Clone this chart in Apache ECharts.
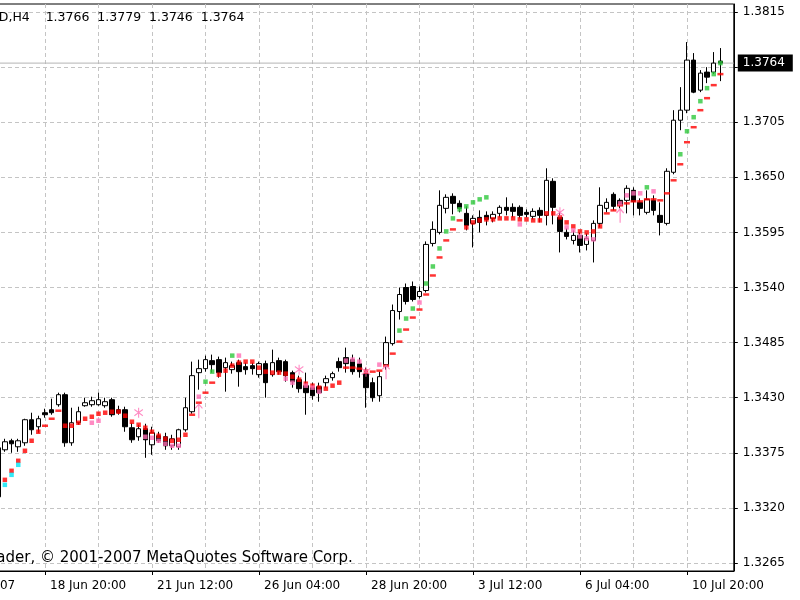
<!DOCTYPE html>
<html>
<head>
<meta charset="utf-8">
<script src="https://cdn.jsdelivr.net/npm/echarts@6/dist/echarts.min.js"></script>
<style>
  html, body { margin: 0; padding: 0; background: #fff; }
  #main { width: 800px; height: 600px; }
</style>
</head>
<body>
<div id="main"></div>
<script>
// EURUSD H4, 14 Jun - 11 Jul 2007
var tradingDays = ['14 Jun', '15 Jun', '18 Jun', '19 Jun', '20 Jun', '21 Jun', '22 Jun', '25 Jun', '26 Jun', '27 Jun',
  '28 Jun', '29 Jun', '2 Jul', '3 Jul', '4 Jul', '5 Jul', '6 Jul', '9 Jul', '10 Jul', '11 Jul', '12 Jul']
var barHours = ['00:00', '04:00', '08:00', '12:00', '16:00', '20:00']
var priceTicks = [1.3265, 1.3320, 1.3375, 1.3430, 1.3485, 1.3540, 1.3595, 1.3650, 1.3705, 1.3760, 1.3815]
var lastBar = [1.3766, 1.3779, 1.3746, 1.3764]

// first visible bar has index 9 on the axis
var FIRST_BAR = 9
// open, high, low, close
var ohlc = [
  [1.3331, 1.3382, 1.3330, 1.3380], [1.3378, 1.3389, 1.3376, 1.3386], [1.3387, 1.3389, 1.3375, 1.3384],
  [1.3381, 1.3389, 1.3376, 1.3387], [1.3385, 1.3409, 1.3382, 1.3408], [1.3408, 1.3415, 1.3393, 1.3398],
  [1.3401, 1.3412, 1.3395, 1.3409], [1.3415, 1.3419, 1.3410, 1.3413], [1.3418, 1.3429, 1.3413, 1.3415],
  [1.3423, 1.3435, 1.3421, 1.3433], [1.3433, 1.3435, 1.3381, 1.3385], [1.3385, 1.3420, 1.3382, 1.3405],
  [1.3405, 1.3421, 1.3403, 1.3416], [1.3422, 1.3430, 1.3421, 1.3425], [1.3423, 1.3431, 1.3421, 1.3427],
  [1.3423, 1.3435, 1.3422, 1.3428], [1.3422, 1.3430, 1.3420, 1.3426], [1.3428, 1.3430, 1.3411, 1.3413],
  [1.3418, 1.3422, 1.3413, 1.3415], [1.3418, 1.3421, 1.3396, 1.3401], [1.3400, 1.3405, 1.3385, 1.3388],
  [1.3391, 1.3403, 1.3387, 1.3399], [1.3399, 1.3404, 1.3370, 1.3388], [1.3383, 1.3401, 1.3373, 1.3395],
  [1.3392, 1.3396, 1.3385, 1.3387], [1.3391, 1.3395, 1.3378, 1.3382], [1.3382, 1.3393, 1.3378, 1.3389],
  [1.3381, 1.3399, 1.3378, 1.3398], [1.3398, 1.3430, 1.3396, 1.3420], [1.3416, 1.3466, 1.3414, 1.3452],
  [1.3455, 1.3468, 1.3438, 1.3459], [1.3459, 1.3472, 1.3456, 1.3468], [1.3467, 1.3473, 1.3455, 1.3463],
  [1.3468, 1.3471, 1.3450, 1.3455], [1.3460, 1.3470, 1.3436, 1.3465], [1.3458, 1.3466, 1.3454, 1.3462],
  [1.3465, 1.3468, 1.3441, 1.3456], [1.3461, 1.3465, 1.3453, 1.3458], [1.3462, 1.3465, 1.3453, 1.3459],
  [1.3453, 1.3466, 1.3450, 1.3464], [1.3464, 1.3467, 1.3430, 1.3445], [1.3453, 1.3478, 1.3451, 1.3465],
  [1.3467, 1.3470, 1.3453, 1.3456], [1.3466, 1.3468, 1.3446, 1.3452], [1.3455, 1.3457, 1.3440, 1.3446],
  [1.3448, 1.3452, 1.3435, 1.3439], [1.3442, 1.3455, 1.3413, 1.3435], [1.3440, 1.3445, 1.3428, 1.3432],
  [1.3441, 1.3445, 1.3426, 1.3435], [1.3445, 1.3452, 1.3440, 1.3449], [1.3450, 1.3456, 1.3447, 1.3454],
  [1.3466, 1.3470, 1.3456, 1.3460], [1.3470, 1.3480, 1.3455, 1.3464], [1.3468, 1.3473, 1.3453, 1.3456],
  [1.3464, 1.3470, 1.3450, 1.3456], [1.3454, 1.3460, 1.3420, 1.3440], [1.3445, 1.3450, 1.3426, 1.3430],
  [1.3432, 1.3456, 1.3426, 1.3451], [1.3463, 1.3491, 1.3458, 1.3485], [1.3484, 1.3523, 1.3482, 1.3517],
  [1.3516, 1.3540, 1.3508, 1.3533], [1.3540, 1.3544, 1.3523, 1.3526], [1.3541, 1.3546, 1.3526, 1.3528],
  [1.3531, 1.3541, 1.3529, 1.3536], [1.3537, 1.3586, 1.3535, 1.3583], [1.3584, 1.3606, 1.3581, 1.3598],
  [1.3595, 1.3637, 1.3593, 1.3622], [1.3619, 1.3633, 1.3614, 1.3630], [1.3631, 1.3634, 1.3613, 1.3624],
  [1.3624, 1.3627, 1.3615, 1.3619], [1.3614, 1.3621, 1.3597, 1.3602], [1.3604, 1.3612, 1.3580, 1.3609],
  [1.3610, 1.3617, 1.3595, 1.3605], [1.3612, 1.3616, 1.3602, 1.3608], [1.3609, 1.3616, 1.3605, 1.3613],
  [1.3614, 1.3622, 1.3610, 1.3620], [1.3620, 1.3630, 1.3612, 1.3617], [1.3620, 1.3624, 1.3610, 1.3616],
  [1.3620, 1.3622, 1.3609, 1.3612], [1.3615, 1.3618, 1.3610, 1.3613], [1.3611, 1.3619, 1.3608, 1.3616],
  [1.3617, 1.3620, 1.3605, 1.3612], [1.3612, 1.3659, 1.3602, 1.3647], [1.3646, 1.3649, 1.3603, 1.3620],
  [1.3610, 1.3615, 1.3575, 1.3596], [1.3595, 1.3599, 1.3588, 1.3591], [1.3587, 1.3597, 1.3583, 1.3592],
  [1.3592, 1.3595, 1.3575, 1.3582], [1.3583, 1.3594, 1.3577, 1.3589], [1.3587, 1.3607, 1.3565, 1.3604],
  [1.3604, 1.3640, 1.3600, 1.3622], [1.3619, 1.3629, 1.3615, 1.3625], [1.3633, 1.3635, 1.3617, 1.3621],
  [1.3627, 1.3629, 1.3619, 1.3622], [1.3627, 1.3642, 1.3614, 1.3639], [1.3637, 1.3640, 1.3612, 1.3626],
  [1.3625, 1.3629, 1.3612, 1.3619], [1.3615, 1.3637, 1.3613, 1.3628], [1.3627, 1.3632, 1.3612, 1.3617],
  [1.3612, 1.3625, 1.3592, 1.3605], [1.3604, 1.3659, 1.3602, 1.3656], [1.3655, 1.3717, 1.3653, 1.3707],
  [1.3707, 1.3740, 1.3697, 1.3717], [1.3717, 1.3785, 1.3714, 1.3767], [1.3767, 1.3774, 1.3734, 1.3735],
  [1.3737, 1.3757, 1.3735, 1.3754], [1.3755, 1.3760, 1.3744, 1.3750], [1.3755, 1.3775, 1.3753, 1.3764],
  lastBar
]

// indicator buffers: [bar index, price]
var redDots = [[10, 1.3348], [11, 1.3357], [12, 1.3367], [13, 1.3377], [14, 1.3387], [15, 1.3396],
  [19, 1.3402], [20, 1.3402], [21, 1.3405], [22, 1.3409], [23, 1.3411], [24, 1.3414], [25, 1.3415], [26, 1.3416],
  [27, 1.3416], [28, 1.3412], [29, 1.3406], [30, 1.3403], [31, 1.3400], [32, 1.3396], [33, 1.3392], [34, 1.3389],
  [35, 1.3387], [36, 1.3388], [37, 1.3393],
  [42, 1.3453], [43, 1.3457], [44, 1.3462], [45, 1.3465], [46, 1.3466], [47, 1.3466], [48, 1.3460], [49, 1.3456],
  [50, 1.3455], [51, 1.3455], [52, 1.3454], [53, 1.3451], [54, 1.3448], [55, 1.3444], [56, 1.3442], [57, 1.3440],
  [58, 1.3439], [59, 1.3442], [60, 1.3445], [64, 1.3456],
  [79, 1.3600], [80, 1.3605], [81, 1.3607], [82, 1.3608], [83, 1.3608], [84, 1.3609], [85, 1.3609], [86, 1.3609],
  [87, 1.3608], [88, 1.3608], [89, 1.3607], [90, 1.3607], [91, 1.3614], [92, 1.3614], [93, 1.3610], [94, 1.3605],
  [95, 1.3601], [96, 1.3596], [97, 1.3595], [98, 1.3596], [99, 1.3601]]
var redDashes = [[16, 1.3402], [17, 1.3409], [18, 1.3417],
  [38, 1.3413], [39, 1.3425], [40, 1.3435], [41, 1.3445],
  [61, 1.3460], [62, 1.3460], [63, 1.3459],
  [65, 1.3456], [66, 1.3457], [67, 1.3462], [68, 1.3474], [69, 1.3486], [70, 1.3498], [71, 1.3510], [72, 1.3518],
  [73, 1.3533], [74, 1.3552], [75, 1.3570], [76, 1.3587], [77, 1.3598], [78, 1.3607],
  [100, 1.3614], [101, 1.3617], [102, 1.3622], [103, 1.3624], [104, 1.3626], [105, 1.3626], [106, 1.3628],
  [107, 1.3628], [108, 1.3627], [109, 1.3634], [110, 1.3647], [111, 1.3663], [112, 1.3685], [113, 1.3700],
  [114, 1.3717], [115, 1.3729], [116, 1.3742], [117, 1.3753]]
var greenDots = [[40, 1.3446], [41, 1.3456], [44, 1.3472], [69, 1.3497], [70, 1.3509], [71, 1.3519], [73, 1.3544],
  [74, 1.3561], [75, 1.3579], [76, 1.3596], [77, 1.3609], [78, 1.3618], [79, 1.3621], [80, 1.3625], [81, 1.3628],
  [82, 1.3630], [106, 1.3640], [111, 1.3673], [112, 1.3696], [113, 1.3710], [114, 1.3726], [115, 1.3739],
  [116, 1.3753], [117, 1.3764]]
var pinkDots = [[23, 1.3405], [24, 1.3407], [31, 1.3391], [32, 1.3390], [33, 1.3387], [34, 1.3384], [35, 1.3382],
  [36, 1.3382], [39, 1.3431], [45, 1.3472], [52, 1.3449], [53, 1.3445], [55, 1.3442], [56, 1.3440], [57, 1.3436],
  [61, 1.3467], [62, 1.3468], [63, 1.3466], [66, 1.3463], [72, 1.3525], [87, 1.3603], [94, 1.3600], [95, 1.3597],
  [96, 1.3591], [97, 1.3589], [98, 1.3588], [102, 1.3624], [103, 1.3632], [104, 1.3634], [105, 1.3634], [107, 1.3636]]
var cyanDots = [[10, 1.3343], [11, 1.3353], [12, 1.3363]]
var upArrows = [[39, 1.3417], [67, 1.3456], [102, 1.3612]]
var stars = [[30, 1.3415], [54, 1.3458], [64, 1.3456], [93, 1.3615]]

var categories = []
tradingDays.forEach(d => barHours.forEach(h => categories.push(d + ' ' + h)))
categories = categories.slice(1, 121)

var candleData = categories.map((c, i) => {
  var r = ohlc[i - FIRST_BAR]
  return r ? [r[0], r[3], r[2], r[1]] : '-'
})

var FONT = 'DejaVu Sans'
var gridLine = { color: '#c4c4c4', type: [4, 3], width: 1 }
var arrowPath = 'path://M4.3,2 L5.7,2 L5.7,16 L4.3,16 Z M5,0 L10,5 L9,6 L5,2 L1,6 L0,5 Z'
var starPath = 'path://M4.4,0 L5.6,0 L5.6,10 L4.4,10 Z M0.6,1.4 L10,7.6 L9.4,8.6 L0,2.4 Z M9.4,1.4 L10,2.4 L0.6,8.6 L0,7.6 Z'

function dots (name, data, color, size) {
  return {
    name: name, type: 'scatter', data: data, symbol: 'rect', symbolSize: size,
    itemStyle: { color: color }, z: 4, silent: true
  }
}

var chart = echarts.init(document.getElementById('main'))
chart.setOption({
  animation: false,
  backgroundColor: '#fff',
  title: [
    {
      text: 'EURUSD,H4    1.3766  1.3779  1.3746  1.3764',
      left: -49, top: 6,
      textStyle: { fontFamily: FONT, fontSize: 12.5, fontWeight: 'normal', color: '#000' }
    },
    {
      text: 'MetaTrader, © 2001-2007 MetaQuotes Software Corp.',
      left: -59, top: 546,
      textStyle: { fontFamily: FONT, fontSize: 15, fontWeight: 'normal', color: '#000' }
    }
  ],
  grid: {
    left: -62, right: 66.2, top: 4, bottom: 29,
    show: true, borderColor: '#000', borderWidth: 1,
    outerBoundsMode: 'none'
  },
  xAxis: {
    type: 'category',
    data: categories,
    boundaryGap: false,
    axisLine: { lineStyle: { color: '#000' } },
    axisTick: { interval: i => i % 16 === 0, length: 4, lineStyle: { color: '#000' } },
    axisLabel: {
      interval: i => i % 16 === 0,
      formatter: (v, i) => i === 0 ? '14 Jun 2007' : v,
      align: 'left', padding: [0, 0, 0, 5], margin: 9,
      color: '#000', fontFamily: FONT, fontSize: 12
    },
    splitLine: { show: true, interval: i => i % 8 === 0, lineStyle: gridLine }
  },
  yAxis: {
    type: 'value',
    position: 'right',
    min: 1.3257,
    max: 1.3823,
    axisLine: { show: true, lineStyle: { color: '#000' } },
    axisTick: { show: true, length: 4, customValues: priceTicks, lineStyle: { color: '#000' } },
    axisLabel: {
      customValues: priceTicks,
      formatter: v => v.toFixed(4),
      margin: 9, color: '#000', fontFamily: FONT, fontSize: 12
    },
    splitLine: { show: true, lineStyle: gridLine }
  },
  series: [
    {
      // current price line with its black price box on the right
      name: 'bid',
      type: 'line',
      data: [[0, lastBar[3]], [categories.length - 1, lastBar[3]]],
      symbol: 'none',
      z: 1,
      silent: true,
      lineStyle: { color: '#b4b4b4', width: 1 },
      endLabel: {
        show: true, distance: 4,
        formatter: () => lastBar[3].toFixed(4),
        color: '#fff', backgroundColor: '#000', padding: [3, 8, 2, 5],
        fontFamily: FONT, fontSize: 12
      }
    },
    {
      name: 'EURUSD',
      type: 'candlestick',
      data: candleData,
      barWidth: 5,
      silent: true,
      itemStyle: { color: '#fff', color0: '#000', borderColor: '#000', borderColor0: '#000', borderWidth: 1 }
    },
    dots('red', redDots, '#ff0000', [4.5, 4.5]),
    dots('red dash', redDashes, '#ff0000', [6, 2.5]),
    dots('green', greenDots, '#2ec83c', [4.5, 4.5]),
    dots('pink', pinkDots, '#ff6eb4', [4.5, 4.5]),
    dots('cyan', cyanDots, '#00e4f4', [4.5, 4.5]),
    {
      name: 'up', type: 'scatter', data: upArrows, symbol: arrowPath, symbolSize: [8, 15],
      itemStyle: { color: '#ff6eb4' }, z: 5, silent: true
    },
    {
      name: 'star', type: 'scatter', data: stars, symbol: starPath, symbolSize: [9, 10],
      itemStyle: { color: '#ff6eb4' }, z: 5, silent: true
    }
  ]
})
</script>
</body>
</html>
